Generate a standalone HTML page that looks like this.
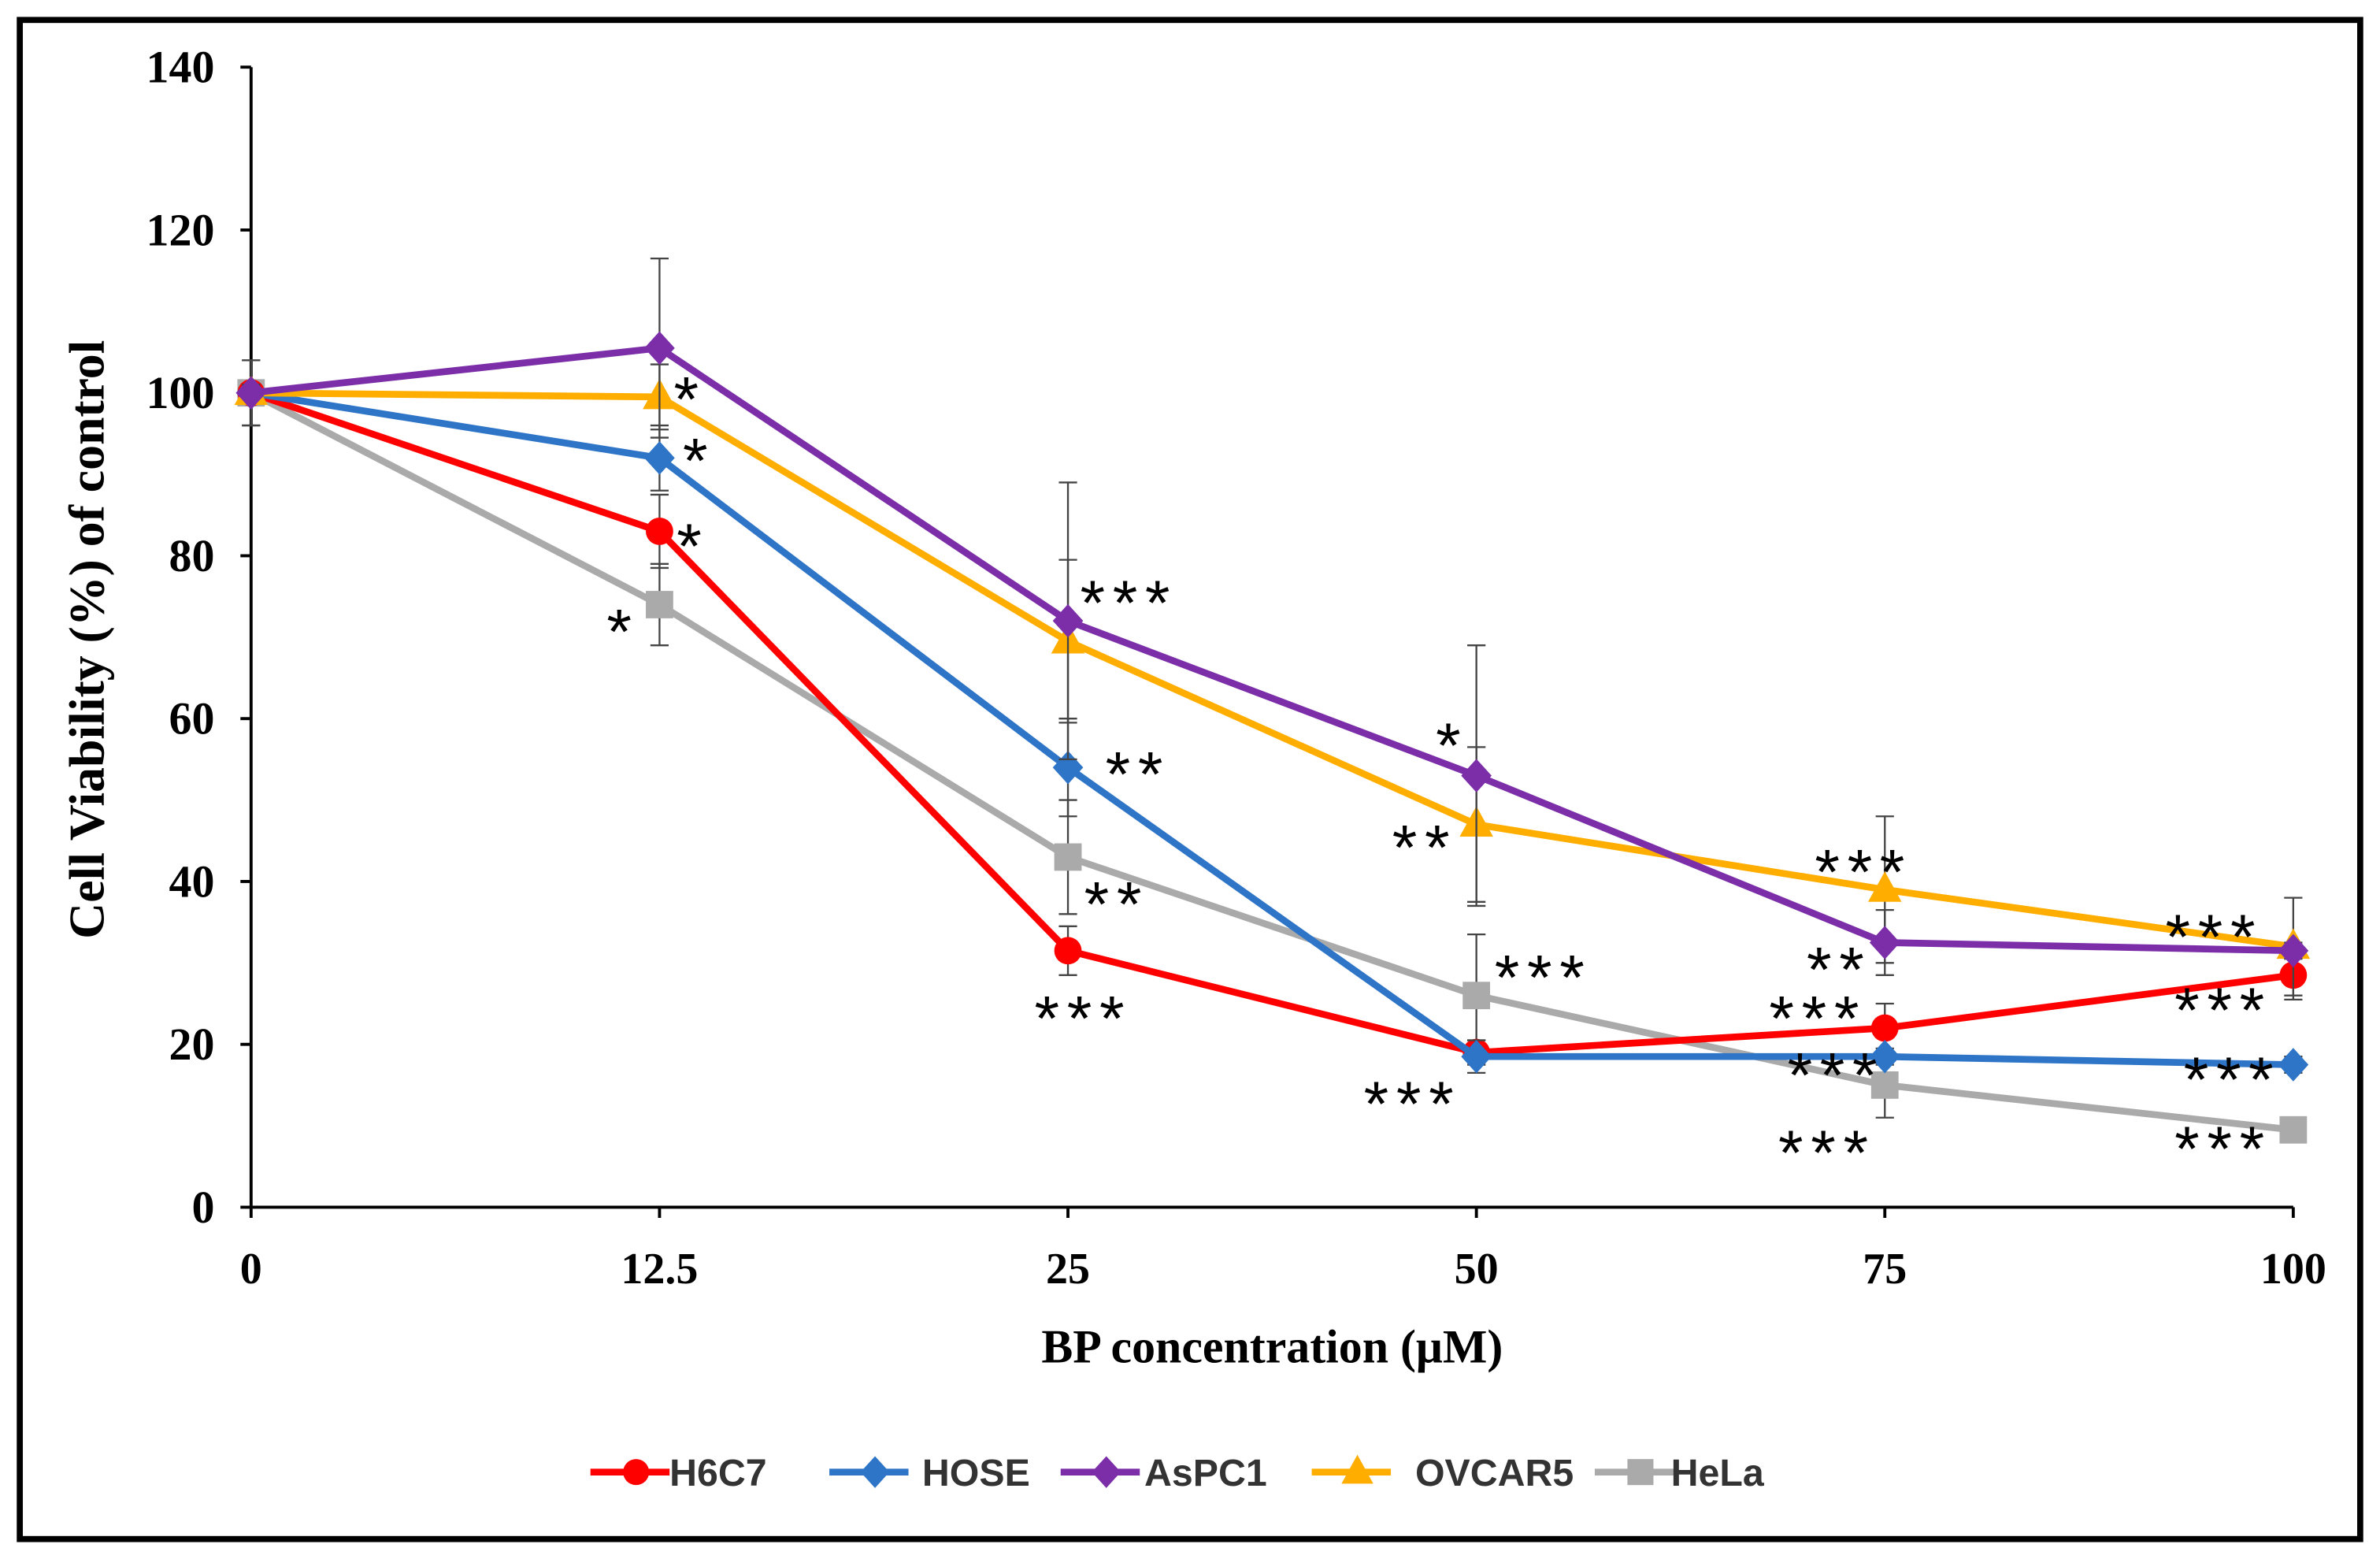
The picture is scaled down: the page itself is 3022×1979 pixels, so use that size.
<!DOCTYPE html>
<html><head><meta charset="utf-8"><style>
html,body{margin:0;padding:0;background:#fff}
svg{display:block}
</style></head><body>
<svg id="chart" width="3022" height="1979" viewBox="0 0 1564 1024" xmlns="http://www.w3.org/2000/svg">
<rect x="13" y="13" width="1538" height="998" fill="#fff" stroke="#000" stroke-width="4"/>
<g id="axes"></g>
<g id="series"></g>
<g id="stars"></g>
<g id="legend"></g>
<text transform="translate(68,420) rotate(-90)" text-anchor="middle" font-family="Liberation Serif, serif" font-weight="bold" font-size="33">Cell Viability (%) of control</text>
<text x="836" y="895" text-anchor="middle" font-family="Liberation Serif, serif" font-weight="bold" font-size="31">BP concentration (μM)</text>
</svg>
<script>
const categories=["0","12.5","25","50","75","100"];
const yTicks=[0,20,40,60,80,100,120,140];
const seriesNames=["H6C7","HOSE","AsPC1","OVCAR5","HeLa"];
const h6c7=[100,83,31.5,19,22,28.5];
const hose=[100,92,54,18.5,18.5,17.5];
const aspc1=[100,105.5,72,53,32.5,31.5];
const ovcar5=[100,99.5,69.5,47,39,32];
const hela=[100,74,43,26,15,9.5];
const h6c7Err=[1,4.5,3,1.5,3,3];
const hoseErr=[1,4,6,2,1,1];
const aspc1Err=[4,11,17,16,4,1];
const ovcar5Err=[1,4,10,9.5,9,6];
const helaErr=[4,5,7,7.5,4,1];
const starLabels=["*","*","*","*","***","**","**","***","*","**","***","***","***","**","***","***","***","***","***","***","***"];
const starCat=[1,1,1,1,2,2,2,2,3,3,3,3,4,4,4,4,4,5,5,5,5];
const starVal=[101,93.5,83,72.5,76,55,39,25,58.5,46,30,14.5,43,31,25,18,8.5,35,26,17.5,9];
const starDx=[20,26,22,-24,40,46,32,10,-16,-34,44,-42,-14,-30,-44,-32,-38,-52,-46,-40,-46];

const NS="http://www.w3.org/2000/svg";
const X0=165,XSTEP=268.4,Y0=793,YPER=(793-44)/140;
const xs=i=>X0+i*XSTEP, ys=v=>Y0-v*YPER;
function mk(tag,attrs,parent){const e=document.createElementNS(NS,tag);for(const k in attrs)e.setAttribute(k,attrs[k]);parent.appendChild(e);return e;}
const axes=document.getElementById('axes');
let e=mk('line',{x1:X0,y1:ys(140),x2:X0,y2:Y0,stroke:'#000','stroke-width':2},axes);


e=mk('line',{x1:X0,y1:Y0,x2:xs(5),y2:Y0,stroke:'#000','stroke-width':2},axes);


yTicks.forEach(v=>{
  mk('line',{x1:X0-7,y1:ys(v),x2:X0,y2:ys(v),stroke:'#000','stroke-width':2},axes);
  const t=mk('text',{x:X0-24,y:ys(v)+10,'text-anchor':'end','font-family':'Liberation Serif, serif','font-weight':'bold','font-size':30},axes);
  t.textContent=v;
  
  
});
categories.forEach((c,i)=>{
  mk('line',{x1:xs(i),y1:Y0,x2:xs(i),y2:Y0+7,stroke:'#000','stroke-width':2},axes);
  const t=mk('text',{x:xs(i),y:Y0+50,'text-anchor':'middle','font-family':'Liberation Serif, serif','font-weight':'bold','font-size':29},axes);
  t.textContent=c;
  
  
});
const colors=["#ff0000","#2e75c8","#7b2ea8","#ffae00","#aaaaaa"];
const shapes=["circle","diamond","diamond","triangle","square"];
const allData=[h6c7,hose,aspc1,ovcar5,hela];
const allErr=[h6c7Err,hoseErr,aspc1Err,ovcar5Err,helaErr];
function marker(shape,x,y,col,g,s){
  s=s||1;
  if(shape==='circle')return mk('circle',{cx:x,cy:y,r:9*s,fill:col},g);
  if(shape==='diamond')return mk('polygon',{points:`${x},${y-11*s} ${x+10*s},${y} ${x},${y+11*s} ${x-10*s},${y}`,fill:col},g);
  if(shape==='triangle')return mk('polygon',{points:`${x},${y-12*s} ${x+11*s},${y+8*s} ${x-11*s},${y+8*s}`,fill:col},g);
  return mk('rect',{x:x-9*s,y:y-9*s,width:18*s,height:18*s,fill:col},g);
}
const sg=document.getElementById('series');
[4,0,1,3,2].forEach(k=>{
  const d=allData[k],er=allErr[k],g=mk('g',{},sg);
  
  
  d.forEach((v,i)=>{
    const x=xs(i);
    mk('line',{x1:x,y1:ys(v-er[i]),x2:x,y2:ys(v+er[i]),stroke:'#444','stroke-width':1.2},g);
    mk('line',{x1:x-6,y1:ys(v-er[i]),x2:x+6,y2:ys(v-er[i]),stroke:'#444','stroke-width':1.2},g);
    mk('line',{x1:x-6,y1:ys(v+er[i]),x2:x+6,y2:ys(v+er[i]),stroke:'#444','stroke-width':1.2},g);
  });
  mk('polyline',{points:d.map((v,i)=>xs(i)+','+ys(v)).join(' '),fill:'none',stroke:colors[k],'stroke-width':4.5},g);
  d.forEach((v,i)=>{const m=marker(shapes[k],xs(i),ys(v),colors[k],g);
    
    });
});
const stg=document.getElementById('stars');
starLabels.forEach((s,i)=>{
  const t=mk('text',{x:xs(starCat[i])+starDx[i],y:ys(starVal[i])+24,'text-anchor':'middle','font-family':'Liberation Sans, sans-serif','font-size':42,'letter-spacing':'5'},stg);
  t.textContent=s;
  
  
});
const lg=document.getElementById('legend');
const lx=[388,545,697,862,1048];
const tx=[440,606,752,930,1098];
seriesNames.forEach((n,k)=>{
  const g=mk('g',{},lg);
  
  
  mk('line',{x1:lx[k],y1:967,x2:lx[k]+52,y2:967,stroke:colors[k],'stroke-width':4.5},g);
  marker(shapes[k],lx[k]+30,967,colors[k],g,0.95);
  const t=mk('text',{x:tx[k],y:976,'font-family':'Liberation Sans, sans-serif','font-weight':'bold','font-size':25,fill:'#333'},g);
  t.textContent=n;
});
</script>
</body></html>
